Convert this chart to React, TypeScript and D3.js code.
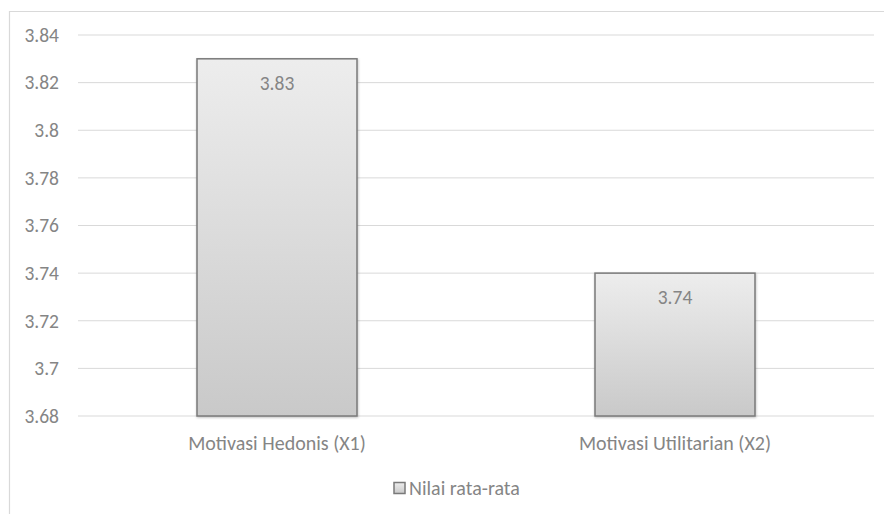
import React from "react";
import * as d3 from "d3";

const categories = ["Motivasi Hedonis (X1)", "Motivasi Utilitarian (X2)"];
const values = [3.83, 3.74];
const yTicks = [3.68, 3.7, 3.72, 3.74, 3.76, 3.78, 3.8, 3.82, 3.84];
const seriesName = "Nilai rata-rata";

export default function App() {
  const W = 884, H = 514;
  const left = 78, right = 874, top = 35, bottom = 416;
  const x = d3.scaleBand().domain(categories).range([left, right]).paddingInner(0.598).paddingOuter(0.299);
  const y = d3.scaleLinear().domain([3.68, 3.84]).range([bottom, top]);
  const font = "Carlito, Calibri, 'Open Sans', sans-serif";
  const txt = "#858585";
  return (
    <svg width={W} height={H} style={{ position: "absolute", left: 0, top: 0 }} fontFamily={font}>
      <defs>
        <linearGradient id="barGrad" x1="0" y1="0" x2="0" y2="1">
          <stop offset="0" stopColor="#ededed" />
          <stop offset="1" stopColor="#c9c9c9" />
        </linearGradient>
        <filter id="shadow" x="-10%" y="-10%" width="120%" height="120%">
          <feDropShadow dx="0.5" dy="1" stdDeviation="1" floodColor="#000" floodOpacity="0.25" />
        </filter>
      </defs>
      <rect x={0} y={0} width={W} height={H} fill="#fff" />
      <path d={`M9.5,${H} V11.5 H${W}`} fill="none" stroke="#d9d9d9" strokeWidth={1.2} />
      {yTicks.map((t) => (
        <g key={t}>
          <line x1={left} x2={right} y1={y(t)} y2={y(t)} stroke="#d9d9d9" strokeWidth={1} />
          <text x={59} y={y(t)} dy="0.35em" textAnchor="end" fontSize={19.5} fill={txt}>
            {d3.format("")(+t.toFixed(2))}
          </text>
        </g>
      ))}
      {categories.map((c, i) => {
        const bx = x(c)!;
        const bw = x.bandwidth();
        const by = y(values[i]);
        return (
          <g key={c}>
            <rect x={bx} y={by} width={bw} height={bottom - by} fill="url(#barGrad)" stroke="#7a7a7a" strokeWidth={1.5} filter="url(#shadow)" />
            <text x={bx + bw / 2} y={by + 24} dy="0.35em" textAnchor="middle" fontSize={19.5} fill={txt}>
              {values[i].toFixed(2)}
            </text>
            <text x={bx + bw / 2} y={443} dy="0.35em" textAnchor="middle" fontSize={20} fill={txt}>
              {c}
            </text>
          </g>
        );
      })}
      <rect x={394} y={482.5} width={11} height={11} fill="url(#barGrad)" stroke="#7a7a7a" strokeWidth={1.5} />
      <text x={409} y={488} dy="0.35em" fontSize={20} fill={txt}>{seriesName}</text>
    </svg>
  );
}
